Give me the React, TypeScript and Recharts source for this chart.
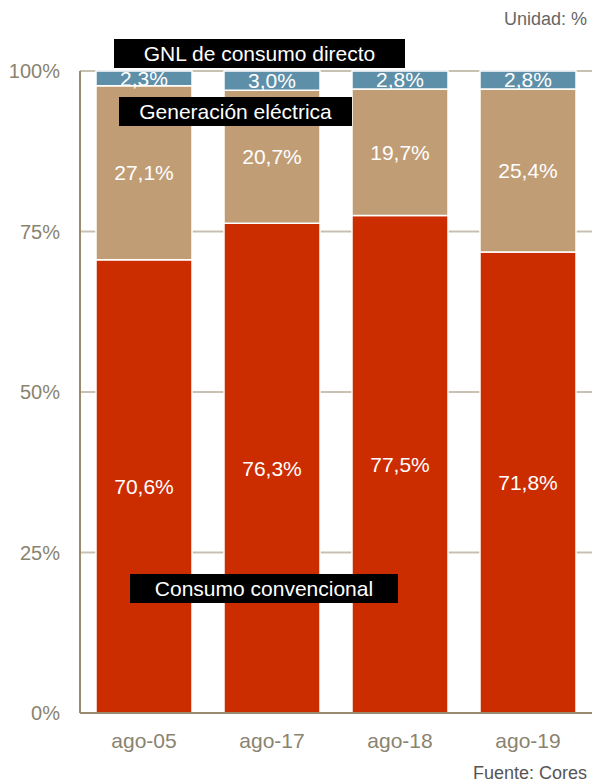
import { BarChart, Bar, XAxis, YAxis, CartesianGrid, LabelList } from 'recharts'

// Cuota de cada uso sobre el total (%), agosto de cada año
const periods = ['ago-05', 'ago-17', 'ago-18', 'ago-19']
const convencional = [70.6, 76.3, 77.5, 71.8]
const electrica = [27.1, 20.7, 19.7, 25.4]
const gnlDirecto = [2.3, 3.0, 2.8, 2.8]
const yTicks = [0, 25, 50, 75, 100]

const data = periods.map((p, i) => ({
  period: p,
  convencional: convencional[i],
  electrica: electrica[i],
  gnlDirecto: gnlDirecto[i],
}))

const FONT = '"Liberation Sans", Arial, sans-serif'
const AXIS = '#9b8b6e'
const TICK = '#8a8370'

const fmt = (v: any) => `${Number(v).toFixed(1).replace('.', ',')}%`

function Tag({ text, left, top, width }: { text: string; left: number; top: number; width: number }) {
  return (
    <div
      style={{
        position: 'absolute',
        left,
        top,
        width,
        height: 29,
        background: '#000',
        color: '#fff',
        fontSize: 21,
        lineHeight: '29px',
        textAlign: 'center',
        whiteSpace: 'nowrap',
      }}
    >
      {text}
    </div>
  )
}

export default function App() {
  return (
    <div
      style={{
        position: 'absolute',
        left: 0,
        top: 0,
        width: 592,
        height: 783,
        background: '#fff',
        fontFamily: FONT,
        overflow: 'hidden',
      }}
    >
      <BarChart
        width={592}
        height={783}
        data={data}
        margin={{ top: 71, right: 0, bottom: 0, left: 0 }}
        barCategoryGap="12.5%"
      >
        <CartesianGrid vertical={false} stroke="#c6c1b1" strokeWidth={2} />
        <XAxis
          dataKey="period"
          height={70}
          axisLine={{ stroke: AXIS, strokeWidth: 2 }}
          tickLine={false}
          tickSize={0}
          tickMargin={20}
          tick={{ fontSize: 21, fill: TICK, fontFamily: FONT }}
        />
        <YAxis
          width={80}
          domain={[0, 100]}
          ticks={yTicks}
          tickFormatter={(v) => `${v}%`}
          axisLine={{ stroke: AXIS, strokeWidth: 2 }}
          tickLine={false}
          tickSize={0}
          tickMargin={20}
          tick={{ fontSize: 20, fill: TICK, fontFamily: FONT }}
        />
        <Bar dataKey="convencional" stackId="a" fill="#cc2d00" stroke="#fff" strokeWidth={1.5} isAnimationActive={false}>
          <LabelList dataKey="convencional" position="center" formatter={fmt} fill="#fff" fontSize={21} fontFamily={FONT} />
        </Bar>
        <Bar dataKey="electrica" stackId="a" fill="#c19d75" stroke="#fff" strokeWidth={1.5} isAnimationActive={false}>
          <LabelList dataKey="electrica" position="center" formatter={fmt} fill="#fff" fontSize={21} fontFamily={FONT} />
        </Bar>
        <Bar dataKey="gnlDirecto" stackId="a" fill="#5e8fa9" stroke="#fff" strokeWidth={1.5} isAnimationActive={false}>
          <LabelList dataKey="gnlDirecto" position="center" formatter={fmt} fill="#fff" fontSize={21} fontFamily={FONT} />
        </Bar>
      </BarChart>

      <div style={{ position: 'absolute', right: 5, top: 9, fontSize: 18, color: '#666' }}>Unidad: %</div>
      <div style={{ position: 'absolute', right: 5, top: 763, fontSize: 18, color: '#555' }}>Fuente: Cores</div>

      <Tag text="GNL de consumo directo" left={114} top={39} width={291} />
      <Tag text="Generación eléctrica" left={119} top={97} width={233} />
      <Tag text="Consumo convencional" left={130} top={574} width={268} />
    </div>
  )
}
